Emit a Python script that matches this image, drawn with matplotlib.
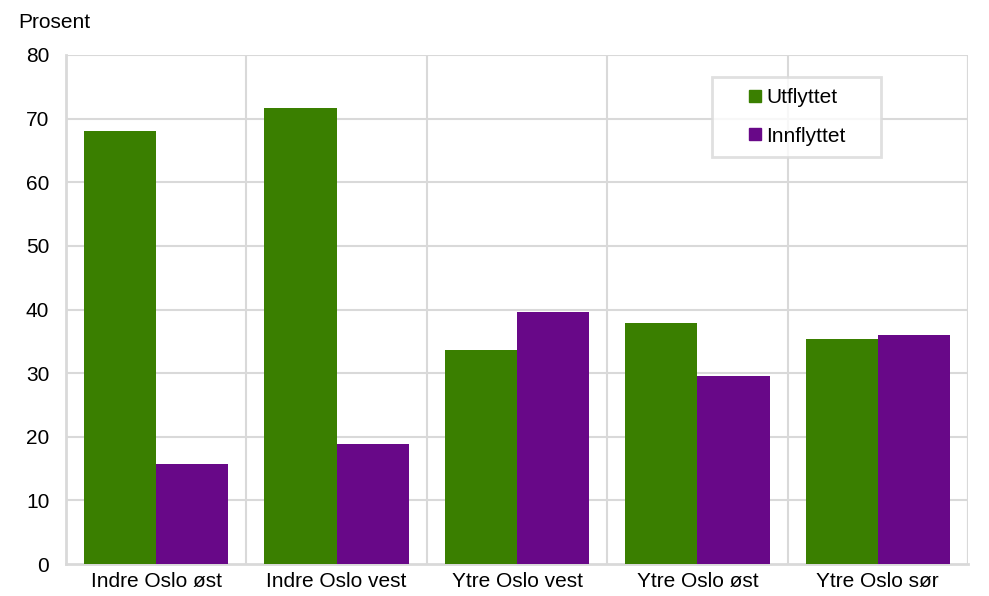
import numpy as np
import matplotlib.pyplot as plt
from matplotlib.lines import Line2D

plt.rcParams['font.family'] = ['Liberation Sans', 'DejaVu Sans']

categories = ["Indre Oslo øst", "Indre Oslo vest", "Ytre Oslo vest", "Ytre Oslo øst", "Ytre Oslo sør"]
utflyttet = [68.1, 71.7, 33.6, 37.9, 35.4]
innflyttet = [15.7, 18.9, 39.6, 29.6, 36.0]

green = "#3A7F00"
purple = "#680888"
grid = "#D9D9D9"

fig = plt.figure(figsize=(9.89, 5.96), dpi=100)
ax = fig.add_axes([66 / 989, 32 / 596, 902 / 989, 509 / 596])

x = np.arange(len(categories))
w = 0.4
ax.bar(x - w / 2, utflyttet, w, color=green, zorder=3)
ax.bar(x + w / 2, innflyttet, w, color=purple, zorder=3)

ax.set_xlim(-0.5, len(categories) - 0.5)
ax.set_ylim(0, 80)
ax.set_yticks(range(0, 81, 10))
ax.set_xticks(x)
ax.set_xticklabels(categories)
ax.tick_params(axis='both', length=0, labelsize=15)
ax.tick_params(axis='y', pad=12)
ax.tick_params(axis='x', pad=6)

for yv in range(10, 81, 10):
    ax.axhline(yv, color=grid, lw=1.5, zorder=1)
for xv in np.arange(0.5, len(categories), 1):
    ax.axvline(xv, color=grid, lw=1.5, zorder=1)
ax.axvline(len(categories) - 0.5, color=grid, lw=1.5, zorder=1)

for s in ["top", "right"]:
    ax.spines[s].set_visible(False)
for s in ["left", "bottom"]:
    ax.spines[s].set_color(grid)
    ax.spines[s].set_linewidth(2)

fig.text(18 / 989, 1 - 22 / 596, "Prosent", fontsize=15, va="center", ha="left")

handles = [
    Line2D([], [], marker="s", color="none", markerfacecolor=green, markeredgecolor=green, markersize=8),
    Line2D([], [], marker="s", color="none", markerfacecolor=purple, markeredgecolor=purple, markersize=8),
]
lx0 = (712 - 66) / 902
lw_ = (881 - 712) / 902
ly1 = 1 - (77 - 55) / 509
lh = (156 - 77) / 509
leg = ax.legend(handles, ["Utflyttet", "Innflyttet"], loc="upper left",
                bbox_to_anchor=(lx0, ly1 - lh, lw_, lh), mode="expand",
                fontsize=15, frameon=True, fancybox=False, handlelength=3.0,
                handletextpad=-0.95, labelspacing=0.92, borderpad=0.55, borderaxespad=0)
leg.get_frame().set_edgecolor(grid)
leg.get_frame().set_linewidth(2)
leg.set_zorder(5)

fig.savefig("out.png", dpi=100)
